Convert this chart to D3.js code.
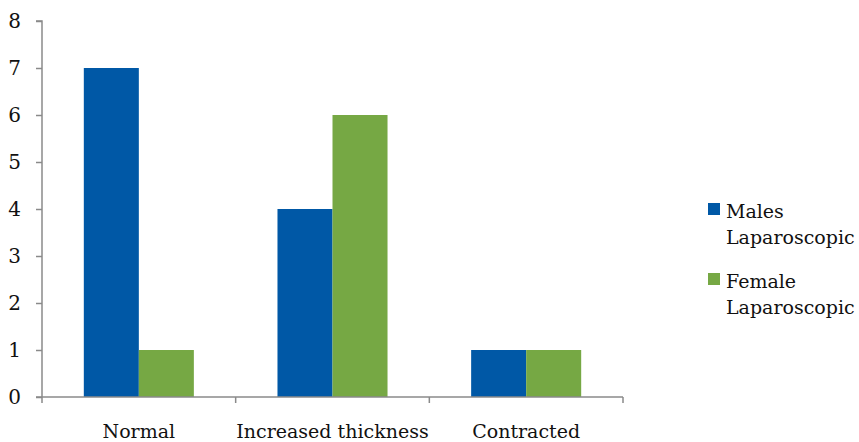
<!DOCTYPE html>
<html>
<head>
<meta charset="utf-8">
<script src="https://cdn.jsdelivr.net/npm/d3@7"></script>
<style>
  body { margin: 0; background: #fff; }
  svg text { font-family: "DejaVu Serif", "Liberation Serif", serif; fill: #111; }
</style>
</head>
<body>
<svg id="chart" width="859" height="442"></svg>
<script>
// Gallbladder wall findings by sex (laparoscopic group)
const categories = ["Normal", "Increased thickness", "Contracted"];
const seriesNames = ["Males Laparoscopic", "Female Laparoscopic"];
const legendLines = [["Males", "Laparoscopic"], ["Female", "Laparoscopic"]];
const males = [7, 4, 1];
const females = [1, 6, 1];
const yTicks = [0, 1, 2, 3, 4, 5, 6, 7, 8];
const colors = ["#0058a6", "#76a844"];

const svg = d3.select("#chart");
const plot = { left: 42, right: 623, top: 21, bottom: 397 };

const x0 = d3.scaleBand().domain(categories).range([plot.left, plot.right]).padding(0);
const x1 = d3.scaleBand().domain(seriesNames).range([0, x0.bandwidth()])
  .paddingInner(0).paddingOuter(0.76);
const y = d3.scaleLinear().domain([0, 8]).range([plot.bottom, plot.top]);

const rows = categories.map((c, i) => ({ cat: c, values: [males[i], females[i]] }));

// bars
const groups = svg.append("g").selectAll("g").data(rows).join("g")
  .attr("transform", d => `translate(${x0(d.cat)},0)`);
groups.selectAll("rect")
  .data(d => d.values.map((v, k) => ({ name: seriesNames[k], v, k })))
  .join("rect")
  .attr("x", d => x1(d.name))
  .attr("width", x1.bandwidth())
  .attr("y", d => y(d.v))
  .attr("height", d => y(0) - y(d.v))
  .attr("fill", d => colors[d.k]);

// y axis
const yAxis = svg.append("g").attr("transform", `translate(${plot.left},0)`)
  .call(d3.axisLeft(y).tickValues(yTicks).tickSize(6).tickPadding(15).tickFormat(d3.format("d")));
yAxis.select(".domain").attr("stroke", "#8a8a8a").attr("stroke-width", 1.5).attr("d", `M-6,${plot.top}H0V${plot.bottom}`);
yAxis.selectAll(".tick line").attr("stroke", "#8a8a8a").attr("stroke-width", 1.5);
yAxis.selectAll(".tick text").attr("font-size", 20).attr("fill", "#111")
  .attr("font-family", "DejaVu Serif, serif");

// x axis with boundary ticks between categories
const xAxis = svg.append("g").attr("transform", `translate(0,${plot.bottom})`);
xAxis.append("line").attr("x1", plot.left - 6).attr("x2", plot.right)
  .attr("stroke", "#8a8a8a").attr("stroke-width", 1.5);
const boundaries = categories.map(c => x0(c)).concat([x0.range()[1]]);
xAxis.selectAll(".bt").data(boundaries).join("line").attr("class", "bt")
  .attr("x1", d => d).attr("x2", d => d).attr("y1", 0).attr("y2", 6)
  .attr("stroke", "#8a8a8a").attr("stroke-width", 1.5);
xAxis.selectAll(".cl").data(categories).join("text").attr("class", "cl")
  .attr("x", d => x0(d) + x0.bandwidth() / 2)
  .attr("y", 41)
  .attr("text-anchor", "middle")
  .attr("font-size", 19)
  .text(d => d);

// legend
const legend = svg.append("g");
seriesNames.forEach((name, k) => {
  const top = 203 + k * 70;
  legend.append("rect").attr("x", 708).attr("y", top).attr("width", 12).attr("height", 12)
    .attr("fill", colors[k]);
  legend.append("text").attr("x", 726).attr("y", top + 15).attr("font-size", 19)
    .text(legendLines[k][0]);
  legend.append("text").attr("x", 726).attr("y", top + 41).attr("font-size", 19)
    .text(legendLines[k][1]);
});
</script>
</body>
</html>
